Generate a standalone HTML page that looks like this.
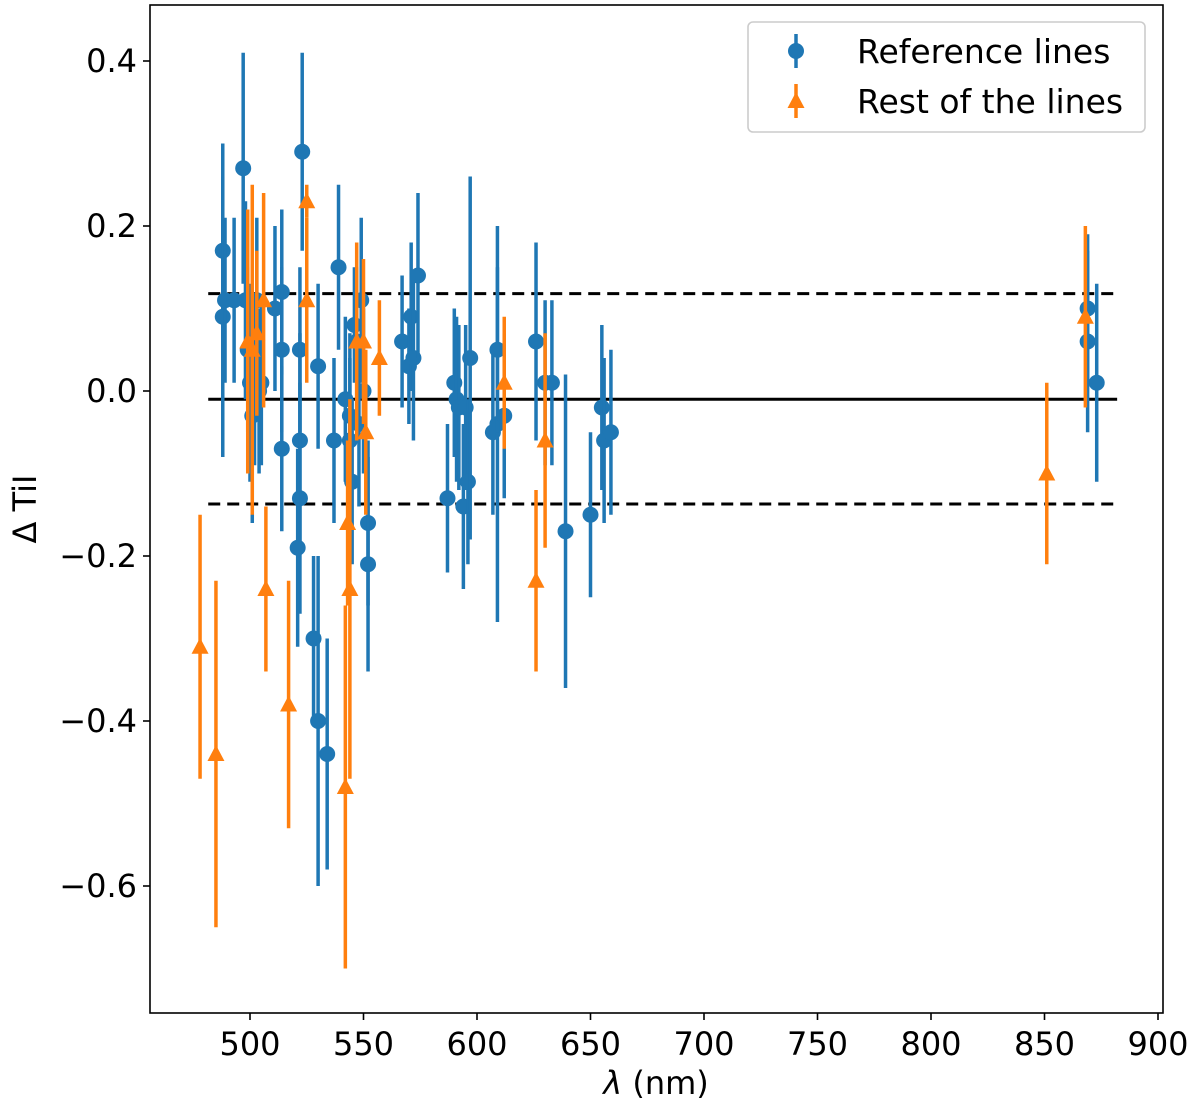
<!DOCTYPE html>
<html><head><meta charset="utf-8"><style>
body{margin:0;background:#fff}
svg text{font-family:"DejaVu Sans","Liberation Sans",sans-serif;fill:#000}
</style></head><body>
<svg id="chart" width="1200" height="1105" xmlns="http://www.w3.org/2000/svg">
<g id="marks"></g>
<g id="axes"></g>
</svg>
<script>
const refX=[488,488,489,493,497,498,499,500,501,502,503,504,505,511,514,514,514,523,522,522,522,521,528,530,530,534,537,539,542,544,544,545,546,547,548,549,550,552,552,567,570,571,572,574,587,590,591,592,594,595,596,597,607,609,609,612,626,630,633,639,650,655,656,659,869,869,873];
const refY=[0.17,0.09,0.11,0.11,0.27,0.11,0.05,0.01,-0.03,0.01,0.11,0.0,0.01,0.10,0.12,0.05,-0.07,0.29,0.05,-0.06,-0.13,-0.19,-0.30,0.03,-0.40,-0.44,-0.06,0.15,-0.01,-0.03,-0.06,-0.11,0.08,0.06,-0.04,0.11,0.0,-0.16,-0.21,0.06,0.03,0.09,0.04,0.14,-0.13,0.01,-0.01,-0.02,-0.14,-0.02,-0.11,0.04,-0.05,-0.04,0.05,-0.03,0.06,0.01,0.01,-0.17,-0.15,-0.02,-0.06,-0.05,0.10,0.06,0.01];
const refE=[0.13,0.17,0.1,0.1,0.14,0.12,0.1,0.12,0.13,0.1,0.1,0.1,0.1,0.1,0.1,0.1,0.1,0.12,0.1,0.13,0.14,0.12,0.1,0.1,0.2,0.14,0.1,0.1,0.1,0.1,0.1,0.1,0.07,0.09,0.1,0.1,0.1,0.1,0.13,0.08,0.07,0.09,0.1,0.1,0.09,0.09,0.1,0.1,0.1,0.1,0.1,0.22,0.1,0.24,0.1,0.1,0.12,0.1,0.1,0.19,0.1,0.1,0.1,0.1,0.09,0.11,0.12];
const restX=[478,485,499,501,503,506,507,517,525,525,542,543,544,547,550,551,557,612,626,630,851,868];
const restY=[-0.31,-0.44,0.06,0.05,0.07,0.11,-0.24,-0.38,0.23,0.11,-0.48,-0.16,-0.24,0.06,0.06,-0.05,0.04,0.01,-0.23,-0.06,-0.10,0.09];
const restE=[0.16,0.21,0.16,0.2,0.1,0.13,0.1,0.15,0.02,0.1,0.22,0.1,0.23,0.12,0.1,0.1,0.07,0.08,0.11,0.13,0.11,0.11];
const xTicks=[500,550,600,650,700,750,800,850,900];
const yTicks=[0.4,0.2,0.0,-0.2,-0.4,-0.6];
const meanVal=-0.01, upperVal=0.118, lowerVal=-0.137;

const L=150,R=1163,T=5,B=1013;
const sx=v=>250+(v-500)*2.27;
const sy=v=>391-v*825;
const NS="http://www.w3.org/2000/svg";
const marks=document.getElementById('marks'), axes=document.getElementById('axes');
function mk(tag,attrs,parent){const e=document.createElementNS(NS,tag);for(const k in attrs)e.setAttribute(k,attrs[k]);parent.appendChild(e);return e;}

function hline(v,dash,name){
 const e=mk('line',{x1:sx(481.6),x2:sx(882),y1:sy(v),y2:sy(v),stroke:'#000','stroke-width':3,'stroke-dasharray':dash},marks);
 
 
}
hline(upperVal,'12,7','upper-dashed-line');
hline(lowerVal,'12,7','lower-dashed-line');
hline(meanVal,'none','mean-line');

refX.forEach((x,i)=>{
 const g=mk('g',{},marks);
 
 
 mk('line',{x1:sx(x),x2:sx(x),y1:sy(refY[i]+refE[i]),y2:sy(refY[i]-refE[i]),stroke:'#1f77b4','stroke-width':3.5},g);
 mk('circle',{cx:sx(x),cy:sy(refY[i]),r:8,fill:'#1f77b4'},g);
});
restX.forEach((x,i)=>{
 const g=mk('g',{},marks);
 
 
 const cx=sx(x),cy=sy(restY[i]);
 mk('line',{x1:cx,x2:cx,y1:sy(restY[i]+restE[i]),y2:sy(restY[i]-restE[i]),stroke:'#ff7f0e','stroke-width':3.5},g);
 mk('polygon',{points:`${cx},${cy-9} ${cx-8.5},${cy+7} ${cx+8.5},${cy+7}`,fill:'#ff7f0e'},g);
});

const fr=mk('rect',{x:L,y:T,width:R-L,height:B-T,fill:'none',stroke:'#000','stroke-width':1.6},axes);


xTicks.forEach(v=>{
 mk('line',{x1:sx(v),x2:sx(v),y1:B,y2:B+7,stroke:'#000','stroke-width':1.6},axes);
 const t=mk('text',{x:sx(v),y:B+42,'font-size':32,'text-anchor':'middle'},axes);t.textContent=v;
 
 
});
yTicks.forEach(v=>{
 mk('line',{x1:L-7,x2:L,y1:sy(v),y2:sy(v),stroke:'#000','stroke-width':1.6},axes);
 const t=mk('text',{x:L-13,y:sy(v)+11,'font-size':32,'text-anchor':'end'},axes);
 t.textContent=(v<0?'\u2212':'')+Math.abs(v).toFixed(1);
 
 
});
</script>
<svg style="position:absolute;left:0;top:0" width="1200" height="1105">
<text x="656" y="1094" font-size="32" text-anchor="middle"><tspan font-style="italic">λ</tspan> (nm)</text>
<text transform="translate(36,509) rotate(-90)" font-size="32" text-anchor="middle">Δ TiI</text>
<g>
<rect x="748" y="22" width="397" height="110" rx="5" fill="#fff" fill-opacity="0.8" stroke="#ccc" stroke-width="1.6"/>
<g>
<line x1="796" x2="796" y1="34" y2="68" stroke="#1f77b4" stroke-width="3.5"/>
<circle cx="796" cy="51" r="8" fill="#1f77b4"/>
<text x="857" y="63" font-size="33">Reference lines</text>
</g>
<g>
<line x1="796" x2="796" y1="84" y2="118" stroke="#ff7f0e" stroke-width="3.5"/>
<polygon points="796,92 787.5,108 804.5,108" fill="#ff7f0e"/>
<text x="857" y="113" font-size="33">Rest of the lines</text>
</g>
</g>
</svg>
</body></html>
